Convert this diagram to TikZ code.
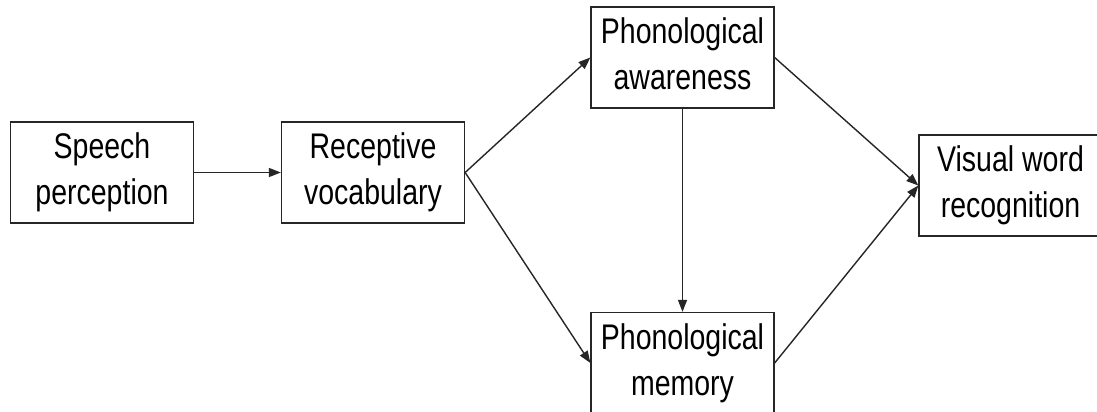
\documentclass[tikz,border=0pt]{standalone}
\usepackage{fontspec}
\setmainfont{Liberation Sans}
\usetikzlibrary{arrows.meta}
\newcommand\boxtext[1]{\scalebox{1}[1.25]{\begin{tabular}{@{}c@{}}#1\end{tabular}}}
\begin{document}
\begin{tikzpicture}[x=1pt,y=-1pt,
  blk/.style={draw=black!85,line width=1.3pt,fill=white,inner sep=0pt,
    minimum width=183pt,minimum height=101pt,align=center,
    font=\fontsize{28.5}{36.6}\selectfont},
  conn/.style={draw=black!85,line width=1.4pt,-{Triangle[length=12pt,width=9pt]}}]
\useasboundingbox (0,0) rectangle (1097,412);
\clip (0,0) rectangle (1097,412);
\node[blk] (sp) at (102,172.5) {\boxtext{Speech\\perception}};
\node[blk] (rv) at (373,172.5) {\boxtext{Receptive\\vocabulary}};
\node[blk] (pa) at (682.5,57.5) {\boxtext{Phonological\\awareness}};
\node[blk] (pm) at (682.5,363) {\boxtext{Phonological\\memory}};
\node[blk] (vw) at (1010.5,185.5) {\boxtext{Visual word\\recognition}};
\draw[conn] (sp.east) -- (rv.west);
\draw[conn] (rv.east) -- (pa.west);
\draw[conn] (rv.east) -- (pm.west);
\draw[conn] (pa.south) -- (pm.north);
\draw[conn] (pa.east) -- (vw.west);
\draw[conn] (pm.east) -- (vw.west);
\end{tikzpicture}
\end{document}
